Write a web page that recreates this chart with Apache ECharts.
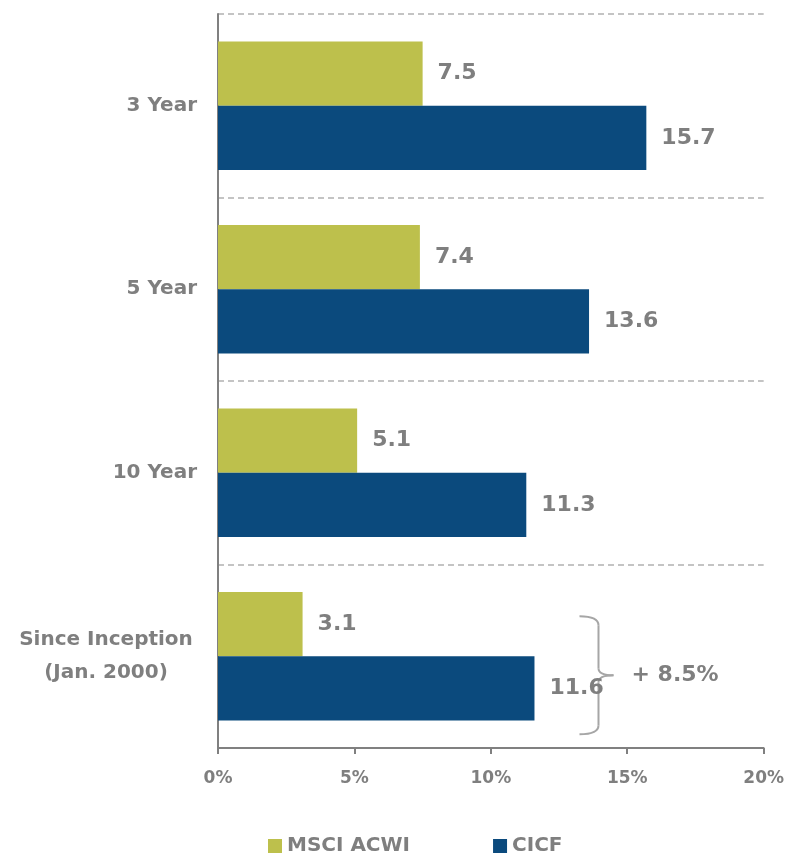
<!DOCTYPE html>
<html><head><meta charset="utf-8">
<script src="https://cdn.jsdelivr.net/npm/echarts@6/dist/echarts.min.js"></script>
<style>html,body{margin:0;padding:0;background:#fff}#c{width:787px;height:858px}</style>
</head><body><div id="c"></div>
<script>
const categories = ['3 Year', '5 Year', '10 Year', 'Since Inception\n(Jan. 2000)'];
const msciAcwi = [7.5, 7.4, 5.1, 3.1];
const cicf = [15.7, 13.6, 11.3, 11.6];
const xTicks = [0, 5, 10, 15, 20];
const annotationText = '+ 8.5%';

(function () {
const FONT = 'DejaVu Sans';
const GRAY = '#7F7F7F';
const chart = echarts.init(document.getElementById('c'));
const labelStyle = {show: true, position: 'right', distance: 15, color: GRAY, fontFamily: FONT,
  fontWeight: 'bold', fontSize: 22, formatter: p => p.value.toFixed(1)};
chart.setOption({
  animation: false,
  grid: {left: 218, right: 22, top: 14, bottom: 110, containLabel: false},
  legend: {
    top: 836, left: 268, itemWidth: 14, itemHeight: 14, itemGap: 83, icon: 'rect', padding: 0,
    textStyle: {color: GRAY, fontFamily: FONT, fontWeight: 'bold', fontSize: 20},
    data: ['MSCI ACWI', 'CICF']
  },
  xAxis: {
    type: 'value', min: xTicks[0], max: xTicks[xTicks.length - 1], interval: 5,
    axisLine: {show: true, lineStyle: {color: '#808080', width: 2}},
    axisTick: {show: true, length: 6, lineStyle: {color: '#808080', width: 2}},
    splitLine: {show: false},
    axisLabel: {color: GRAY, fontFamily: FONT, fontWeight: 'bold', fontSize: 17, margin: 22,
      formatter: v => v + '%'}
  },
  yAxis: {
    type: 'category', data: categories, inverse: true,
    axisLine: {show: true, lineStyle: {color: '#808080', width: 2}},
    axisTick: {show: false},
    splitLine: {show: true, lineStyle: {color: '#C4C4C4', type: [6, 4], width: 2}},
    axisLabel: {margin: 21, color: GRAY, fontFamily: FONT, fontWeight: 'bold', fontSize: 20,
      formatter: v => v.indexOf('\n') >= 0 ? v.split('\n').map(s => '{c|' + s + '}').join('\n') : v,
      rich: {c: {width: 182, align: 'center', color: GRAY, fontFamily: FONT, fontWeight: 'bold', fontSize: 20, lineHeight: 33}}
    }
  },
  series: [
    {name: 'MSCI ACWI', type: 'bar', data: msciAcwi, barGap: '0%', barCategoryGap: '30%',
      itemStyle: {color: '#BDC04C'}, label: labelStyle},
    {name: 'CICF', type: 'bar', data: cicf, barGap: '0%', barCategoryGap: '30%',
      itemStyle: {color: '#0B4A7D'}, label: labelStyle}
  ]
});

// brace annotation next to the Since Inception group
const c = chart.convertToPixel({xAxisIndex: 0, yAxisIndex: 0}, [13.25, 3]);
const bx = c[0], cy = c[1];
const y0 = cy - 40, y1 = cy + 78, ym = cy + 19, w = 19, tip = 15;
const st = {fill: null, stroke: '#A6A6A6', lineWidth: 2};
const xr = bx + w;
chart.setOption({
  graphic: [
    {type: 'bezierCurve', shape: {x1: bx, y1: y0, cpx1: xr, cpy1: y0, x2: xr, y2: y0 + 9}, style: st},
    {type: 'line', shape: {x1: xr, y1: y0 + 9, x2: xr, y2: ym - 7}, style: st},
    {type: 'bezierCurve', shape: {x1: xr, y1: ym - 7, cpx1: xr, cpy1: ym, x2: xr + tip, y2: ym}, style: st},
    {type: 'bezierCurve', shape: {x1: xr + tip, y1: ym, cpx1: xr, cpy1: ym, x2: xr, y2: ym + 7}, style: st},
    {type: 'line', shape: {x1: xr, y1: ym + 7, x2: xr, y2: y1 - 9}, style: st},
    {type: 'bezierCurve', shape: {x1: xr, y1: y1 - 9, cpx1: xr, cpy1: y1, x2: bx, y2: y1}, style: st},
    {type: 'text', x: bx + 52, y: ym, style: {text: annotationText, fill: GRAY, font: 'bold 22px ' + FONT, verticalAlign: 'middle'}}
  ]
});
})();
</script></body></html>
